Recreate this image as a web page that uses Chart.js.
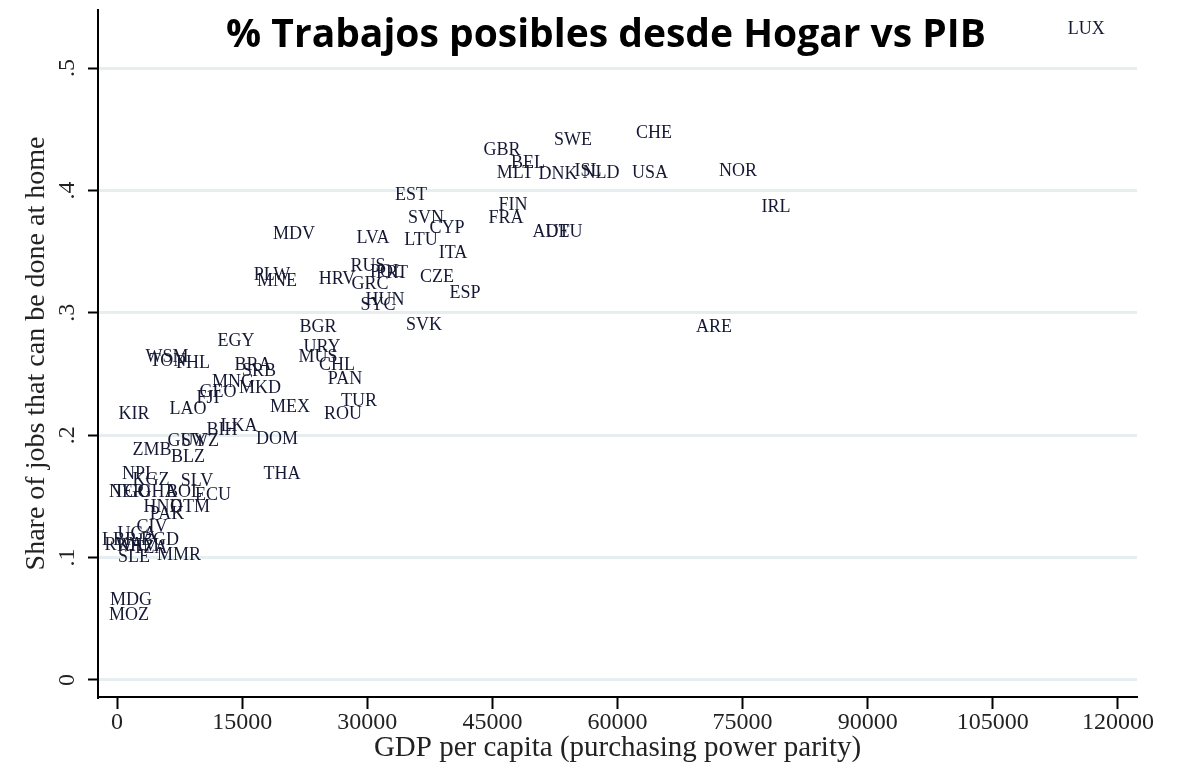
<!DOCTYPE html>
<html>
<head>
<meta charset="utf-8">
<script src="https://cdn.jsdelivr.net/npm/chart.js@4"></script>
<style>
  body { margin: 0; background: #fff; }
  #wrap { width: 1181px; height: 768px; }
</style>
</head>
<body>
<div id="wrap"><canvas id="scatter"></canvas></div>
<script>
const countries = [
  "LUX", "CHE", "SWE", "GBR", "BEL", "MLT", "DNK", "ISL", "NLD", "USA",
  "NOR", "IRL", "EST", "FIN", "FRA", "SVN", "CYP", "AUT", "DEU", "MDV",
  "LVA", "LTU", "ITA", "RUS", "POL", "PRT", "HRV", "GRC", "CZE", "ESP",
  "PLW", "MNE", "HUN", "SYC", "SVK", "ARE", "BGR", "URY", "MUS", "CHL",
  "PAN", "TUR", "ROU", "MEX", "DOM", "THA", "EGY", "BRA", "SRB", "MKD",
  "MNG", "GEO", "FJI", "LAO", "KIR", "WSM", "TON", "PHL", "BIH", "LKA",
  "GUY", "SWZ", "ZMB", "BLZ", "NPL", "KGZ", "NER", "TGO", "GHA", "BOL",
  "ECU", "SLV", "HND", "GTM", "PAK", "CIV", "UGA", "LBR", "RWA", "BGD",
  "KHM", "TZA", "SLE", "MMR", "MDG", "MOZ"
];
const gdpPerCapita = [
  116200, 64370, 54660, 46150, 49270, 47710, 52860, 56460, 58020, 63890,
  74440, 79000, 35240, 47470, 46630, 37040, 39560, 52030, 53580, 21220,
  30690, 36440, 40280, 30090, 32370, 32970, 26370, 30330, 38360, 41720,
  18580, 19180, 32130, 31290, 36800, 71570, 24100, 24570, 24100, 26370,
  27330, 29010, 27090, 20740, 19180, 19780, 14270, 16300, 17020, 17140,
  13910, 12110, 10910, 8510, 2040, 5990, 6110, 9110, 12590, 14620,
  8390, 9950, 4200, 8510, 2640, 4080, 1200, 1800, 4910, 8030,
  11510, 9590, 5510, 8750, 5990, 4200, 2400, 300, 840, 5150,
  2520, 3960, 2040, 7430, 1680, 1440
];
const homeShare = [
  0.532, 0.447, 0.441, 0.433, 0.422, 0.414, 0.413, 0.416, 0.414, 0.414,
  0.416, 0.386, 0.396, 0.388, 0.377, 0.377, 0.369, 0.366, 0.366, 0.364,
  0.361, 0.359, 0.349, 0.338, 0.333, 0.332, 0.327, 0.323, 0.329, 0.316,
  0.331, 0.326, 0.310, 0.306, 0.290, 0.288, 0.288, 0.272, 0.264, 0.257,
  0.246, 0.228, 0.217, 0.223, 0.197, 0.168, 0.277, 0.257, 0.252, 0.238,
  0.243, 0.235, 0.230, 0.221, 0.217, 0.264, 0.260, 0.259, 0.204, 0.207,
  0.195, 0.195, 0.188, 0.182, 0.168, 0.163, 0.153, 0.153, 0.153, 0.153,
  0.151, 0.162, 0.141, 0.141, 0.135, 0.125, 0.119, 0.114, 0.110, 0.114,
  0.109, 0.108, 0.100, 0.102, 0.065, 0.053
];
const xTicks = [0, 15000, 30000, 45000, 60000, 75000, 90000, 105000, 120000];
const yTicks = [0, 0.1, 0.2, 0.3, 0.4, 0.5];
const yTickLabels = ["0", ".1", ".2", ".3", ".4", ".5"];

const serif = "'Liberation Serif', 'DejaVu Serif', serif";

// country codes drawn in place of markers, plus rotated y labels and the title
const labelPlugin = {
  id: "labels",
  afterDraw(chart) {
    const ctx = chart.ctx;
    const meta = chart.getDatasetMeta(0);
    ctx.save();
    ctx.font = "18px " + serif;
    ctx.fillStyle = "#141833";
    ctx.textAlign = "center";
    ctx.textBaseline = "middle";
    meta.data.forEach((pt, i) => {
      ctx.fillText(countries[i], pt.x, pt.y);
    });

    const ys = chart.scales.y;
    ctx.font = "24px " + serif;
    ctx.fillStyle = "#222";
    yTicks.forEach((v, i) => {
      ctx.save();
      ctx.translate(68, ys.getPixelForValue(v));
      ctx.rotate(-Math.PI / 2);
      ctx.fillText(yTickLabels[i], 0, 0);
      ctx.restore();
    });

    ctx.font = "bold 39px 'Open Sans', sans-serif";
    ctx.fillStyle = "#000";
    ctx.textBaseline = "alphabetic";
    ctx.fillText("% Trabajos posibles desde Hogar vs PIB", 606, 47);
    ctx.restore();
  }
};

new Chart(document.getElementById("scatter"), {
  type: "scatter",
  data: {
    datasets: [{
      data: gdpPerCapita.map((g, i) => ({ x: g, y: homeShare[i] })),
      pointRadius: 0,
      pointHoverRadius: 0
    }]
  },
  options: {
    responsive: true,
    maintainAspectRatio: false,
    animation: false,
    events: [],
    layout: { padding: { top: 10, right: 44, left: 0, bottom: 0 } },
    plugins: {
      legend: { display: false },
      tooltip: { enabled: false }
    },
    scales: {
      x: {
        type: "linear",
        min: -2278,
        max: 122278,
        afterBuildTicks: (s) => { s.ticks = xTicks.map(v => ({ value: v })); },
        afterFit: (s) => { s.height = 71; },
        grid: {
          drawOnChartArea: false,
          tickLength: 12,
          tickColor: "#000",
          tickWidth: 2
        },
        border: { color: "#000", width: 2 },
        ticks: {
          font: { family: serif, size: 24 },
          color: "#222",
          padding: -1,
          maxRotation: 0,
          callback: (v) => String(v)
        },
        title: {
          display: true,
          text: "GDP per capita (purchasing power parity)",
          font: { family: serif, size: 29, lineHeight: 1 },
          color: "#222",
          padding: { top: 0, bottom: 5 }
        }
      },
      y: {
        type: "linear",
        min: -0.0139,
        max: 0.5474,
        afterBuildTicks: (s) => { s.ticks = yTicks.map(v => ({ value: v })); },
        afterFit: (s) => { s.width = 98; },
        grid: {
          color: "#e6eef0",
          lineWidth: 3,
          tickLength: 10,
          tickColor: "#000",
          tickWidth: 2
        },
        border: { color: "#000", width: 2 },
        ticks: { display: false },
        title: {
          display: true,
          text: "Share of jobs that can be done at home",
          font: { family: serif, size: 28, lineHeight: 1 },
          color: "#222",
          padding: { top: 23, bottom: 0 }
        }
      }
    }
  },
  plugins: [labelPlugin]
});
</script>
</body>
</html>
